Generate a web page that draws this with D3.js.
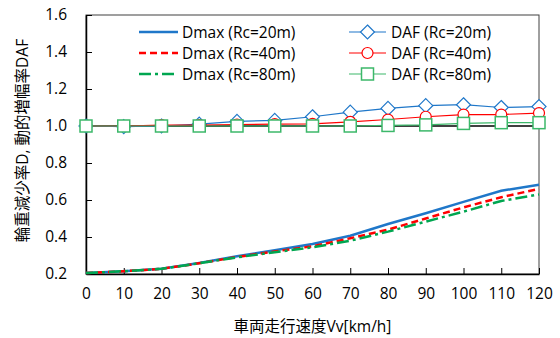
<!DOCTYPE html>
<html>
<head>
<meta charset="utf-8">
<script src="https://cdn.jsdelivr.net/npm/d3@7"></script>
<style>
  body { margin: 0; background: #fff; }
  svg text { font-family: "Open Sans", "Noto Sans CJK JP", sans-serif; fill: #000; }
</style>
</head>
<body>
<svg id="chart" width="560" height="338"></svg>
<script>
// speeds (km/h)
const speeds = [0, 10, 20, 30, 40, 50, 60, 70, 80, 90, 100, 110, 120];

// wheel load reduction ratio D
const dmax20 = [0.205, 0.215, 0.228, 0.26, 0.296, 0.328, 0.362, 0.407, 0.47, 0.528, 0.59, 0.65, 0.683];
const dmax40 = [0.205, 0.215, 0.228, 0.258, 0.292, 0.322, 0.35, 0.393, 0.44, 0.5, 0.56, 0.615, 0.66];
const dmax80 = [0.205, 0.215, 0.228, 0.258, 0.29, 0.318, 0.344, 0.38, 0.429, 0.483, 0.537, 0.595, 0.63];

// dynamic amplification factor
const daf20 = [1.0, 0.997, 1.0, 1.01, 1.025, 1.03, 1.05, 1.075, 1.095, 1.11, 1.115, 1.1, 1.105];
const daf40 = [1.0, 1.0, 1.005, 1.005, 1.008, 1.01, 1.012, 1.022, 1.035, 1.05, 1.062, 1.062, 1.07];
const daf80 = [1.0, 1.0, 1.0, 1.0, 1.0, 1.0, 1.0, 1.0, 1.003, 1.006, 1.014, 1.018, 1.018];

const baseline = speeds.map(() => 1.0);

const yTicks = [0.2, 0.4, 0.6, 0.8, 1.0, 1.2, 1.4, 1.6];

const svg = d3.select('#chart');
const plotLeft = 86, plotRight = 539, plotTop = 15, plotBottom = 274;

const x = d3.scaleLinear().domain([0, 120]).range([plotLeft, plotRight]);
const y = d3.scaleLinear().domain([0.2, 1.6]).range([plotBottom, plotTop]);

// frame
svg.append('rect')
    .attr('x', plotLeft).attr('y', plotTop)
    .attr('width', plotRight - plotLeft).attr('height', plotBottom - plotTop)
    .attr('fill', 'none').attr('stroke', '#404040').attr('stroke-width', 1);

// axes (ticks point inward)
const xAxis = svg.append('g').attr('transform', `translate(0,${plotBottom})`)
    .call(d3.axisBottom(x).tickValues(speeds).tickSizeInner(-6).tickSizeOuter(0).tickPadding(14));
const yAxis = svg.append('g').attr('transform', `translate(${plotLeft},0)`)
    .call(d3.axisLeft(y).tickValues(yTicks).tickFormat(d3.format('.1f')).tickSizeInner(-6).tickSizeOuter(0).tickPadding(19));
[xAxis, yAxis].forEach(g => {
    g.select('.domain').attr('stroke', '#000').attr('stroke-width', 1.5);
    g.selectAll('.tick line').attr('stroke', '#000');
    g.selectAll('.tick text').style('font-size', '15.5px').attr('fill', '#000');
});

// axis titles
svg.append('text')
    .attr('x', (plotLeft + plotRight) / 2).attr('y', 332)
    .attr('text-anchor', 'middle').style('font-size', '15.5px').attr('fill', '#404040')
    .text('車両走行速度Vv[km/h]');
svg.append('text')
    .attr('transform', `translate(28,${(plotTop + plotBottom) / 2 - 4}) rotate(-90)`)
    .attr('text-anchor', 'middle').style('font-size', '15.5px').attr('fill', '#404040')
    .text('輪重減少率D, 動的増幅率DAF');

const line = d3.line().x((d, i) => x(speeds[i])).y(d => y(d));

// reference line at 1.0
svg.append('path').datum(baseline)
    .attr('d', line).attr('fill', 'none').attr('stroke', '#000').attr('stroke-width', 1.5);

const dmaxSeries = [
    { name: 'Dmax (Rc=20m)', values: dmax20, color: '#1f77c9', dash: null },
    { name: 'Dmax (Rc=40m)', values: dmax40, color: '#ff0000', dash: '7,4' },
    { name: 'Dmax (Rc=80m)', values: dmax80, color: '#00a650', dash: '12,4,3,4' }
];
const dafSeries = [
    { name: 'DAF (Rc=20m)', values: daf20, color: '#1f77c9', marker: 'diamond' },
    { name: 'DAF (Rc=40m)', values: daf40, color: '#ff0000', marker: 'circle' },
    { name: 'DAF (Rc=80m)', values: daf80, color: '#3cb86a', marker: 'square' }
];

dmaxSeries.forEach(s => {
    svg.append('path').datum(s.values)
        .attr('d', line).attr('fill', 'none')
        .attr('stroke', s.color).attr('stroke-width', 2.5)
        .attr('stroke-dasharray', s.dash);
});

function drawMarker(g, type, cx, cy, color) {
    if (type === 'diamond') {
        g.append('path')
            .attr('d', `M${cx},${cy - 7}L${cx + 7},${cy}L${cx},${cy + 7}L${cx - 7},${cy}Z`)
            .attr('fill', '#fff').attr('stroke', color).attr('stroke-width', 1.2);
    } else if (type === 'circle') {
        g.append('circle').attr('cx', cx).attr('cy', cy).attr('r', 5.5)
            .attr('fill', '#fff').attr('stroke', color).attr('stroke-width', 1.2);
    } else {
        g.append('rect').attr('x', cx - 6).attr('y', cy - 6).attr('width', 12).attr('height', 12)
            .attr('fill', '#fff').attr('stroke', color).attr('stroke-width', 1.5);
    }
}

dafSeries.forEach(s => {
    const g = svg.append('g');
    g.append('path').datum(s.values)
        .attr('d', line).attr('fill', 'none')
        .attr('stroke', s.color).attr('stroke-width', 1.2);
    s.values.forEach((v, i) => drawMarker(g, s.marker, x(speeds[i]), y(v), s.color));
});

// legend
const legendRows = [32, 53, 74];
dmaxSeries.forEach((s, i) => {
    const ly = legendRows[i];
    svg.append('line').attr('x1', 139).attr('x2', 178).attr('y1', ly).attr('y2', ly)
        .attr('stroke', s.color).attr('stroke-width', 2.5).attr('stroke-dasharray', s.dash);
    svg.append('text').attr('x', 182).attr('y', ly + 5.5).style('font-size', '15.5px').text(s.name);
});
dafSeries.forEach((s, i) => {
    const ly = legendRows[i];
    const g = svg.append('g');
    g.append('line').attr('x1', 349).attr('x2', 386).attr('y1', ly).attr('y2', ly)
        .attr('stroke', s.color).attr('stroke-width', 1.2);
    drawMarker(g, s.marker, 367.5, ly, s.color);
    svg.append('text').attr('x', 391).attr('y', ly + 5.5).style('font-size', '15.5px').text(s.name);
});
</script>
</body>
</html>
